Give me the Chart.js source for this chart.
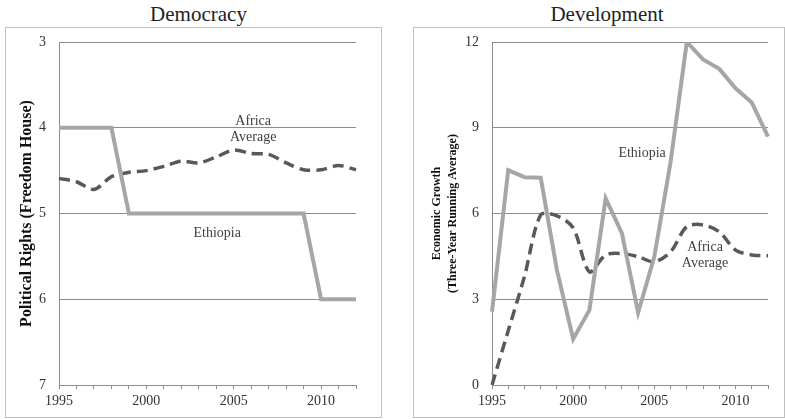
<!DOCTYPE html>
<html>
<head>
<meta charset="utf-8">
<script src="https://cdn.jsdelivr.net/npm/chart.js@4.4.1/dist/chart.umd.min.js"></script>
<style>
    body { margin: 0; background: #fff; width: 785px; height: 419px; position: relative; overflow: hidden; font-family: "Liberation Serif", serif; }
    .title { position: absolute; top: 2px; font-size: 21px; color: #222; text-align: center; line-height: normal; }
    .box { position: absolute; top: 27px; height: 391px; border: 1px solid #bfbfbf; box-sizing: border-box; }
</style>
</head>
<body>
<div class="title" style="left:5px;width:387px;">Democracy</div>
<div class="title" style="left:413px;width:388px;">Development</div>
<div class="box" style="left:5px;width:377px;"><canvas id="democracyChart"></canvas></div>
<div class="box" style="left:413px;width:372px;"><canvas id="developmentChart"></canvas></div>
<script>
// Years on the x axis
const years = [1995, 1996, 1997, 1998, 1999, 2000, 2001, 2002, 2003, 2004, 2005, 2006, 2007, 2008, 2009, 2010, 2011, 2012];

// Political rights (Freedom House, 1 = best, 7 = worst)
const ethiopiaRights = [4, 4, 4, 4, 5, 5, 5, 5, 5, 5, 5, 5, 5, 5, 5, 6, 6, 6];
const africaRights = [4.59, 4.63, 4.72, 4.57, 4.52, 4.5, 4.45, 4.39, 4.41, 4.34, 4.26, 4.3, 4.31, 4.41, 4.49, 4.49, 4.44, 4.49];

// Economic growth, three-year running average (%)
const ethiopiaGrowth = [2.56, 7.52, 7.27, 7.25, 4.02, 1.61, 2.62, 6.53, 5.31, 2.53, 4.49, 7.8, 12.0, 11.39, 11.06, 10.38, 9.88, 8.69];
const africaGrowth = [0, 1.9, 3.8, 5.95, 5.92, 5.5, 3.96, 4.55, 4.6, 4.49, 4.31, 4.66, 5.54, 5.6, 5.36, 4.72, 4.55, 4.52];

const rightsTicks = [3, 4, 5, 6, 7];
const growthTicks = [0, 3, 6, 9, 12];

const serif = '"Liberation Serif", "DejaVu Serif", serif';
const gridGray = '#8c8c8c';

// Draws the in-plot series labels at data coordinates
const notesPlugin = {
    id: 'notes',
    afterDatasetsDraw(chart, args, opts) {
        const ctx = chart.ctx;
        const xs = chart.scales.x;
        const ys = chart.scales.y;
        ctx.save();
        ctx.font = '14px ' + serif;
        ctx.fillStyle = '#404040';
        ctx.textAlign = 'center';
        ctx.textBaseline = 'middle';
        (opts.items || []).forEach(item => {
            const px = xs.getPixelForValue(years.indexOf(item.year)) + (item.dx || 0);
            const py = ys.getPixelForValue(item.value);
            item.lines.forEach((line, i) => {
                ctx.fillText(line, px, py + i * 16);
            });
        });
        ctx.restore();
    }
};

function makeChart(id, ethiopia, africa, tickValues, reverse, yTitle, yWidth, pad, titleFont, notes) {
    const ctx = document.getElementById(id);
    return new Chart(ctx, {
        type: 'line',
        data: {
            labels: years,
            datasets: [
                {
                    label: 'Ethiopia',
                    data: ethiopia,
                    borderColor: '#a6a6a6',
                    borderWidth: 4,
                    pointRadius: 0,
                    tension: 0,
                    fill: false
                },
                {
                    label: 'Africa Average',
                    data: africa,
                    borderColor: '#595959',
                    borderWidth: 3.5,
                    borderDash: [11, 6],
                    pointRadius: 0,
                    tension: 0.3,
                    fill: false
                }
            ]
        },
        options: {
            responsive: true,
            maintainAspectRatio: false,
            animation: false,
            layout: {
                autoPadding: false,
                padding: { top: pad.top, right: pad.right, left: 0, bottom: 0 }
            },
            plugins: {
                legend: { display: false },
                tooltip: { enabled: false },
                notes: { items: notes }
            },
            scales: {
                x: {
                    type: 'category',
                    offset: false,
                    afterFit: s => {
                        s.height = 32;
                        s.paddingLeft = 0;
                        s.paddingRight = 0;
                    },
                    grid: {
                        offset: false,
                        drawOnChartArea: false,
                        drawTicks: true,
                        tickLength: 4,
                        color: gridGray
                    },
                    border: { color: gridGray, width: 1 },
                    ticks: {
                        autoSkip: false,
                        maxRotation: 0,
                        padding: 4,
                        color: '#333',
                        font: { family: serif, size: 14 },
                        callback: function(value, index) {
                            return years[index] % 5 === 0 ? String(years[index]) : '';
                        }
                    }
                },
                y: {
                    min: tickValues[0],
                    max: tickValues[tickValues.length - 1],
                    reverse: reverse,
                    afterFit: s => {
                        s.width = yWidth;
                        s.paddingTop = 0;
                        s.paddingBottom = 0;
                    },
                    afterBuildTicks: s => { s.ticks = tickValues.map(v => ({ value: v })); },
                    grid: {
                        color: gridGray,
                        drawTicks: false
                    },
                    border: { color: gridGray, width: 1 },
                    ticks: {
                        padding: 13,
                        color: '#333',
                        font: { family: serif, size: 14 }
                    },
                    title: {
                        display: true,
                        text: yTitle,
                        color: '#111',
                        padding: { top: pad.title, bottom: 0 },
                        font: titleFont
                    }
                }
            }
        },
        plugins: [notesPlugin]
    });
}

makeChart('democracyChart', ethiopiaRights, africaRights, rightsTicks, true,
    'Political Rights (Freedom House)', 53, { top: 14, right: 25, title: 11 },
    { family: serif, size: 16, weight: 'bold', lineHeight: 1.2 },
    [
        { year: 2006, value: 3.93, lines: ['Africa', 'Average'], dx: 2 },
        { year: 2004, value: 5.23, lines: ['Ethiopia'], dx: 1 }
    ]);

makeChart('developmentChart', ethiopiaGrowth, africaGrowth, growthTicks, false,
    ['Economic Growth', '(Three-Year Running Average)'], 78, { top: 14, right: 16, title: 15 },
    { family: serif, size: 12, weight: 'bold', lineHeight: 1.35 },
    [
        { year: 2004, value: 8.12, lines: ['Ethiopia'], dx: 4 },
        { year: 2008, value: 4.83, lines: ['Africa', 'Average'], dx: 2 }
    ]);
</script>
</body>
</html>
